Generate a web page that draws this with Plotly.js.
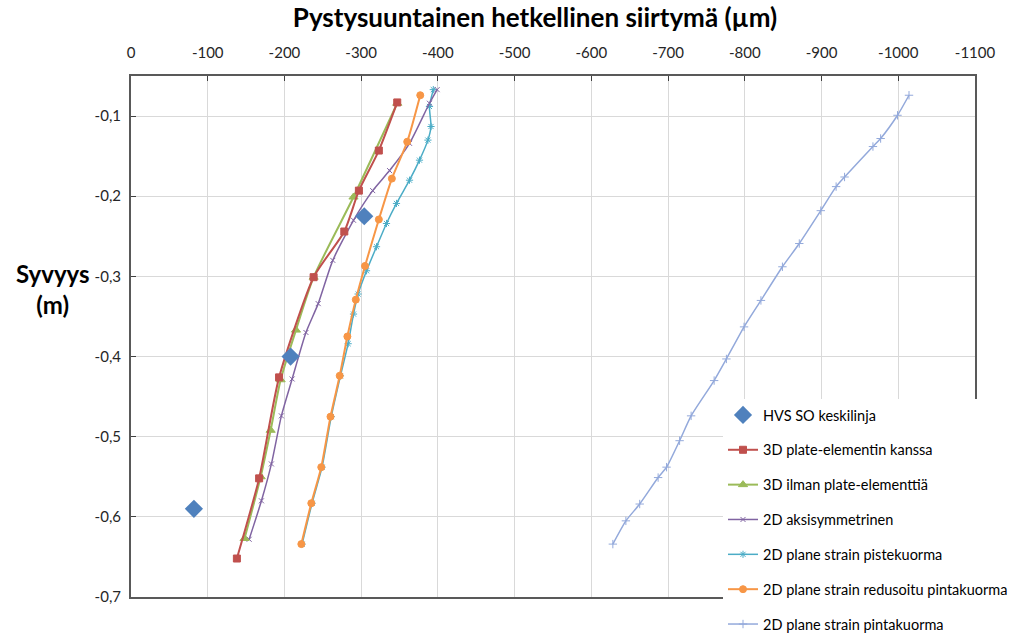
<!DOCTYPE html>
<html>
<head>
<meta charset="utf-8">
<script src="https://cdn.plot.ly/plotly-3.0.1.min.js"></script>
<style>html,body{margin:0;padding:0;background:#fff;}#chart{width:1028px;height:634px;}</style>
</head>
<body>
<div id="chart"></div>
<script>
// Series names
const seriesNames = [
  "HVS SO keskilinja",
  "3D plate-elementin kanssa",
  "3D ilman plate-elementtiä",
  "2D aksisymmetrinen",
  "2D plane strain pistekuorma",
  "2D plane strain redusoitu pintakuorma",
  "2D plane strain pintakuorma"
];

// HVS SO keskilinja (measured)
const hvsX = [-304, -208, -82];
const hvsY = [-0.225, -0.4, -0.59];

// 3D plate-elementin kanssa
const plateX = [-347, -323, -297, -278, -238, -193, -167, -138];
const plateY = [-0.083, -0.143, -0.193, -0.244, -0.301, -0.426, -0.552, -0.652];

// 3D ilman plate-elementtiä
const noPlateX = [-347, -290, -238, -215, -195, -182, -169, -148];
const noPlateY = [-0.084, -0.201, -0.301, -0.367, -0.429, -0.492, -0.55, -0.627];

// 2D aksisymmetrinen
const axiX = [-399, -389, -363, -337, -315, -290, -263, -244, -228, -210, -196, -183, -170, -154];
const axiY = [-0.067, -0.084, -0.134, -0.168, -0.193, -0.23, -0.28, -0.334, -0.37, -0.428, -0.474, -0.534, -0.58, -0.628];

// 2D plane strain pistekuorma
const pointX = [-394, -389, -391, -387, -376, -363, -346, -333, -320, -307, -296, -290, -283, -273, -261, -249, -236, -223];
const pointY = [-0.067, -0.088, -0.113, -0.13, -0.155, -0.18, -0.209, -0.234, -0.263, -0.293, -0.322, -0.347, -0.384, -0.424, -0.475, -0.538, -0.583, -0.634];

// 2D plane strain redusoitu pintakuorma
const reducedX = [-377, -360, -340, -323, -305, -293, -282, -272, -260, -248, -235, -222];
const reducedY = [-0.074, -0.132, -0.178, -0.229, -0.287, -0.329, -0.375, -0.424, -0.475, -0.538, -0.583, -0.634];

// 2D plane strain pintakuorma
const surfX = [-1014, -999, -977, -967, -930, -919, -899, -871, -849, -821, -799, -776, -760, -730, -715, -698, -687, -663, -645, -628];
const surfY = [-0.074, -0.099, -0.128, -0.138, -0.176, -0.188, -0.218, -0.259, -0.288, -0.33, -0.363, -0.403, -0.43, -0.474, -0.505, -0.538, -0.551, -0.584, -0.605, -0.634];

// Tick labels
const xTickVals = [0, -100, -200, -300, -400, -500, -600, -700, -800, -900, -1000, -1100];
const xTickText = ["0", "-100", "-200", "-300", "-400", "-500", "-600", "-700", "-800", "-900", "-1000", "-1100"];
const yTickVals = [-0.1, -0.2, -0.3, -0.4, -0.5, -0.6, -0.7];
const yTickText = ["-0,1", "-0,2", "-0,3", "-0,4", "-0,5", "-0,6", "-0,7"];

const colors = ["#4F81BD", "#C0504D", "#9BBB59", "#8064A2", "#4BACC6", "#F79646", "#93A9DB"];

function line(x, y, i, symbol, size, extra) {
  return Object.assign({
    x: x, y: y, name: seriesNames[i], legendgroup: "g" + i,
    type: "scatter", mode: "lines+markers",
    line: {color: colors[i], width: 2, shape: "spline", smoothing: 0.6},
    marker: {color: colors[i], symbol: symbol, size: size, line: {color: colors[i], width: 1}}
  }, extra || {});
}

const traces = [
  {x: hvsX, y: hvsY, name: seriesNames[0], legendgroup: "g0", type: "scatter", mode: "markers",
   marker: {color: colors[0], symbol: "diamond", size: 14}},
  line(plateX, plateY, 1, "square", 7),
  line(noPlateX, noPlateY, 2, "triangle-up", 8),
  line(axiX, axiY, 3, "x-thin-open", 5, {line: {color: colors[3], width: 1.5, shape: "spline", smoothing: 0.6}}),
  line(pointX, pointY, 4, "asterisk-open", 6, {line: {color: colors[4], width: 1.5, shape: "spline", smoothing: 0.6}}),
  line(reducedX, reducedY, 5, "circle", 7),
  line(surfX, surfY, 6, "cross-thin-open", 6, {line: {color: colors[6], width: 1.5, shape: "spline", smoothing: 0.6}})
];
// draw order: keep legend order but put HVS on top
const drawOrder = [traces[4], traces[6], traces[3], traces[2], traces[1], traces[5], traces[0]];
drawOrder.forEach((t) => { t.legendrank = seriesNames.indexOf(t.name) + 1; });

const fontFam = "Lato, 'Open Sans', sans-serif";

const plotL = 131, plotR = 975, plotT = 76, plotB = 597;
const plotW = plotR - plotL, plotH = plotB - plotT;

const layout = {
  width: 1028, height: 634,
  margin: {l: plotL, r: 1028 - plotR, t: plotT, b: 634 - plotB, autoexpand: false},
  paper_bgcolor: "#ffffff", plot_bgcolor: "#ffffff",
  font: {family: fontFam, size: 15, color: "#404040"},
  title: {text: "<b>Pystysuuntainen hetkellinen siirtymä (µm)</b>", font: {family: fontFam, size: 26, color: "#000000"},
          x: 535 / 1028, xanchor: "center", xref: "container", y: 1 - 18 / 634, yanchor: "middle", yref: "container"},
  xaxis: {
    side: "top", range: [0, -1100], tickmode: "array", tickvals: xTickVals, ticktext: xTickText,
    showgrid: true, gridcolor: "#d9d9d9", gridwidth: 1, zeroline: false,
    showline: true, linecolor: "#595959", linewidth: 2, mirror: true,
    ticks: "inside", ticklen: 5, tickcolor: "#404040", tickwidth: 1, ticklabelstandoff: 10,
    tickfont: {family: fontFam, size: 15, color: "#262626"}, fixedrange: true, automargin: false
  },
  yaxis: {
    range: [-0.7, -0.05], tickmode: "array", tickvals: yTickVals, ticktext: yTickText,
    showgrid: true, gridcolor: "#d9d9d9", gridwidth: 1, zeroline: false,
    showline: true, linecolor: "#595959", linewidth: 2, mirror: true,
    ticks: "inside", ticklen: 5, tickcolor: "#404040", tickwidth: 1, ticklabelstandoff: 5,
    tickfont: {family: fontFam, size: 15, color: "#262626"}, fixedrange: true, automargin: false
  },
  legend: {
    xref: "paper", yref: "paper",
    x: (723 - plotL) / plotW, xanchor: "left",
    y: (plotB - 399) / plotH, yanchor: "top",
    bgcolor: "#ffffff", borderwidth: 0,
    font: {family: fontFam, size: 14.5, color: "#000000"},
    tracegroupgap: 13, itemwidth: 30
  },
  annotations: [{
    text: "<b>Syvyys<br>(m)</b>", xref: "paper", yref: "paper",
    x: (53 - plotL) / plotW, y: (plotB - 289) / plotH,
    xanchor: "center", yanchor: "middle", showarrow: false, align: "center",
    font: {family: fontFam, size: 24, color: "#000000"}
  }],
  showlegend: true
};

Plotly.newPlot("chart", drawOrder, layout, {displayModeBar: false, staticPlot: true});
</script>
</body>
</html>
